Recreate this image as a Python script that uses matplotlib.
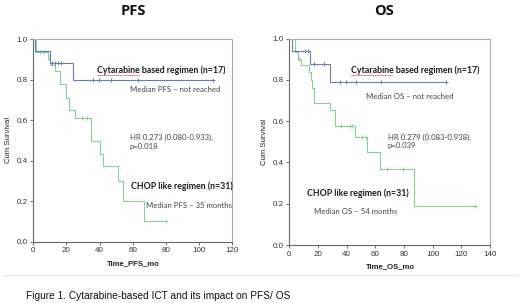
import matplotlib
matplotlib.use("Agg")
import matplotlib.pyplot as plt

W, H = 520, 303

# ---------------- data ----------------
# PFS
pfs_cyt_t = [0, 1, 10, 24, 108.6]
pfs_cyt_s = [1.0, 0.941, 0.882, 0.80, 0.80]
pfs_cyt_cens_t = [11, 13, 15, 17, 36, 39.6, 47, 63.3, 108.6]
pfs_cyt_cens_s = [0.882, 0.882, 0.882, 0.882, 0.80, 0.80, 0.80, 0.80, 0.80]

pfs_chop_t = [0, 1.5, 9, 10, 13, 16, 20, 21.5, 25, 35, 40, 42, 51.3, 54.3, 66.8, 80]
pfs_chop_s = [1.0, 0.935, 0.903, 0.87, 0.84, 0.78, 0.71, 0.65, 0.61, 0.495, 0.435,
              0.373, 0.30, 0.20, 0.10, 0.10]
pfs_chop_cens_t = [4, 6, 29.3, 32.6, 80]
pfs_chop_cens_s = [0.935, 0.935, 0.61, 0.61, 0.10]

# OS
os_cyt_t = [0, 2, 14.6, 28.4, 109]
os_cyt_s = [1.0, 0.941, 0.875, 0.79, 0.79]
os_cyt_cens_t = [11, 13.3, 17.5, 24.4, 35.5, 39.4, 46.3, 63.8, 109]
os_cyt_cens_s = [0.941, 0.941, 0.875, 0.875, 0.79, 0.79, 0.79, 0.79, 0.79]

os_chop_t = [0, 4, 6, 8, 14, 15, 16, 17.5, 28.5, 32, 46, 54.4, 63.5, 87, 129.6]
os_chop_s = [1.0, 0.935, 0.903, 0.87, 0.839, 0.80, 0.76, 0.69, 0.655, 0.575, 0.525,
             0.45, 0.37, 0.19, 0.19]
os_chop_cens_t = [7, 36, 42, 44, 50.4, 53.2, 68, 79.5, 129.6]
os_chop_cens_s = [0.903, 0.575, 0.575, 0.575, 0.525, 0.525, 0.37, 0.37, 0.19]

pfs_xticks = [0, 20, 40, 60, 80, 100, 120]
os_xticks = [0, 20, 40, 60, 80, 100, 120, 140]
yticks = [0.0, 0.2, 0.4, 0.6, 0.8, 1.0]

BLUE = "#6a7ab8"
GREEN = "#86cf98"

fig = plt.figure(figsize=(W / 100, H / 100), dpi=100)


def px(x, y):
    return x / W, 1 - y / H


def make_ax(l, t, r, b):
    return fig.add_axes([l / W, 1 - b / H, (r - l) / W, (b - t) / H])


def style(ax, xticks, xmax):
    ax.set_xlim(0, xmax)
    ax.set_ylim(0, 1.0)
    ax.set_xticks(xticks)
    ax.set_yticks(yticks)
    ax.set_xticklabels([str(v) for v in xticks])
    ax.set_yticklabels([f"{v:.1f}" for v in yticks])
    ax.tick_params(labelsize=5.8, length=2.5, width=0.6, colors="#555555",
                   labelcolor="#333333", pad=1.5)
    for s in ax.spines.values():
        s.set_color("#aaaaaa")
        s.set_linewidth(0.8)
    ax.spines["left"].set_color("#666666")
    ax.spines["bottom"].set_color("#666666")
    for lab in ax.get_xticklabels() + ax.get_yticklabels():
        lab.set_family("Liberation Sans")


def km(ax, t, s, ct, cs, color):
    ax.step(t, s, where="post", color=color, lw=0.8)
    ax.plot(ct, cs, ls="none", marker="+", ms=2.6, mew=0.7, color=color)


# ---- PFS ----
ax1 = make_ax(33.3, 39, 232.3, 241.7)
style(ax1, pfs_xticks, 120)
km(ax1, pfs_chop_t, pfs_chop_s, pfs_chop_cens_t, pfs_chop_cens_s, GREEN)
km(ax1, pfs_cyt_t, pfs_cyt_s, pfs_cyt_cens_t, pfs_cyt_cens_s, BLUE)

# ---- OS ----
ax2 = make_ax(289.3, 38.5, 490, 245)
style(ax2, os_xticks, 140)
km(ax2, os_chop_t, os_chop_s, os_chop_cens_t, os_chop_cens_s, GREEN)
km(ax2, os_cyt_t, os_cyt_s, os_cyt_cens_t, os_cyt_cens_s, BLUE)

ann = "Lato"
bold_kw = dict(family=ann, fontsize=6.3, fontweight="bold", color="#1a1a1a", va="center")
reg_kw = dict(family=ann, fontsize=5.6, color="#444444", va="center")

# titles
fig.text(*px(133, 11), "PFS", family="Open Sans", fontsize=10.5, fontweight="bold",
         ha="center", va="center", color="#111111")
fig.text(*px(384, 11), "OS", family="Open Sans", fontsize=10.5, fontweight="bold",
         ha="center", va="center", color="#111111")

# PFS annotations
fig.text(*px(97, 70), "Cytarabine based regimen (n=17)", **bold_kw)
fig.text(*px(130, 90), "Median PFS \u2013 not reached", **reg_kw)
fig.text(*px(130, 137), "HR 0.273 (0.080-0.933),", **reg_kw)
fig.text(*px(130, 146), "p=0.018", **reg_kw)
fig.text(*px(131, 186), "CHOP like regimen (n=31)", **bold_kw)
fig.text(*px(146, 205), "Median PFS \u2013 35 months", **reg_kw)

# OS annotations
fig.text(*px(351, 70), "Cytarabine based regimen (n=17)", **bold_kw)
fig.text(*px(366, 96), "Median OS \u2013 not reached", **reg_kw)
fig.text(*px(388, 137.3), "HR 0.279 (0.083-0.938),", **reg_kw)
fig.text(*px(388, 145.7), "p=0.039", **reg_kw)
fig.text(*px(307, 193), "CHOP like regimen (n=31)", **bold_kw)
fig.text(*px(314, 212), "Median OS \u2013 54 months", **reg_kw)

# spell-check style underline under "Cytarabine"
for x0, x1 in [(97, 139), (351, 392)]:
    fig.add_artist(plt.Line2D([x0 / W, x1 / W], [1 - 75 / H, 1 - 75 / H],
                              color="#e89090", lw=0.7))

# axis labels
lab_kw = dict(family="Liberation Sans", fontsize=5.6, color="#222222",
              ha="center", va="center")
fig.text(*px(133, 264), "Time_PFS_mo", fontweight="bold", **lab_kw)
fig.text(*px(390, 267), "Time_OS_mo", fontweight="bold", **lab_kw)
fig.text(*px(9, 140), "Cum Survival", rotation=90, **lab_kw)
fig.text(*px(265, 142), "Cum Survival", rotation=90, **lab_kw)

# separator + caption
fig.add_artist(plt.Line2D([3 / W, 517 / W], [1 - 275 / H, 1 - 275 / H],
                          color="#e6e6e6", lw=0.8))
fig.text(*px(26, 296), "Figure 1. Cytarabine-based ICT and its impact on PFS/ OS",
         family="Liberation Sans", fontsize=7.3, color="#111111", va="center")

fig.savefig("out.png", dpi=100)
